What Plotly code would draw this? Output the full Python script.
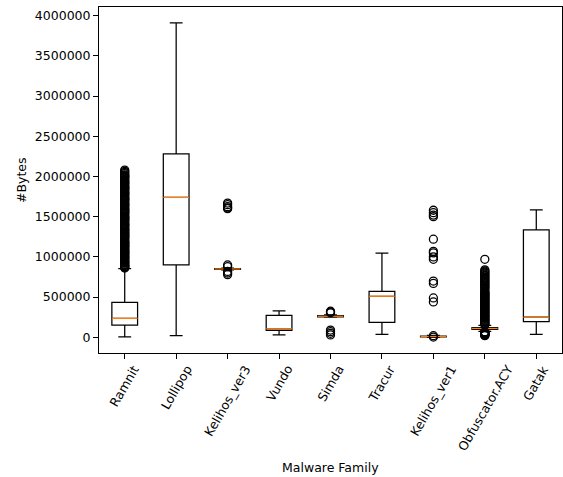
import plotly.graph_objects as go

families = ["Ramnit", "Lollipop", "Kelihos_ver3", "Vundo", "Simda", "Tracur",
            "Kelihos_ver1", "Obfuscator.ACY", "Gatak"]
positions = [1, 2, 3, 4, 5, 6, 7, 8, 9]

lower_whisker = [5000, 20000, 840000, 30000, 250000, 37000, 0, 75000, 37000]
q1_vals = [153000, 900000, 845000, 87000, 255000, 187000, 5000, 100000, 195000]
median_vals = [235000, 1740000, 850000, 107000, 262000, 510000, 10000, 110000, 250000]
q3_vals = [436000, 2280000, 855000, 274000, 270000, 570000, 15000, 122000, 1336000]
upper_whisker = [855000, 3910000, 860000, 330000, 280000, 1046000, 25000, 150000, 1585000]

outliers_ramnit = [862000, 870000, 878000, 885000, 893000, 900000, 912000, 925000,
                   932000, 940000, 950000, 960000, 972000, 985000, 992000, 1000000,
                   1010000, 1020000, 1032000, 1045000, 1052000, 1060000, 1070000,
                   1080000, 1090000, 1100000, 1112000, 1125000, 1132000, 1140000,
                   1152000, 1165000, 1172000, 1180000, 1190000, 1200000, 1215000,
                   1230000, 1240000, 1250000, 1260000, 1270000, 1280000, 1290000,
                   1300000, 1310000, 1322000, 1335000, 1342000, 1350000, 1365000,
                   1380000, 1390000, 1400000, 1410000, 1420000, 1435000, 1450000,
                   1460000, 1470000, 1480000, 1490000, 1500000, 1510000, 1525000,
                   1540000, 1550000, 1560000, 1570000, 1580000, 1590000, 1600000,
                   1615000, 1630000, 1640000, 1650000, 1660000, 1670000, 1685000,
                   1700000, 1710000, 1720000, 1730000, 1740000, 1755000, 1770000,
                   1780000, 1790000, 1800000, 1810000, 1825000, 1840000, 1850000,
                   1860000, 1870000, 1880000, 1895000, 1910000, 1920000, 1930000,
                   1940000, 1950000, 1965000, 1980000, 1990000, 2000000, 2010000,
                   2020000, 2035000, 2050000, 2065000, 2080000]
outliers_lollipop = []
outliers_kelihos3 = [780000, 800000, 820000, 880000, 900000,
                     1600000, 1610000, 1625000, 1650000, 1670000]
outliers_vundo = []
outliers_simda = [30000, 50000, 70000, 90000, 305000, 315000, 325000]
outliers_tracur = []
outliers_kelihos1 = [3000, 20000, 440000, 490000, 670000, 700000, 970000, 1000000,
                     1050000, 1070000, 1220000, 1500000, 1520000, 1550000, 1580000]
outliers_obfuscator = [20000, 25000, 30000, 35000, 40000, 45000, 50000, 55000,
                       60000, 65000, 70000, 155000, 165000, 175000, 185000, 195000,
                       205000, 215000, 225000, 235000, 245000, 255000, 265000,
                       275000, 285000, 295000, 305000, 315000, 325000, 335000,
                       345000, 355000, 365000, 375000, 385000, 395000, 405000,
                       415000, 425000, 435000, 445000, 455000, 465000, 475000,
                       485000, 495000, 505000, 515000, 525000, 535000, 545000,
                       555000, 565000, 580000, 600000, 612000, 625000, 640000,
                       652000, 665000, 680000, 692000, 705000, 720000, 732000,
                       745000, 760000, 772000, 785000, 800000, 812000, 825000,
                       840000, 970000]
outliers_gatak = []

outliers = [outliers_ramnit, outliers_lollipop, outliers_kelihos3, outliers_vundo,
            outliers_simda, outliers_tracur, outliers_kelihos1, outliers_obfuscator,
            outliers_gatak]

y_ticks = [0, 500000, 1000000, 1500000, 2000000, 2500000, 3000000, 3500000, 4000000]

FONT = "DejaVu Sans"
FS = 12.5
BOX_W = 0.5
LW = 1.25

fig = go.Figure()

for i, fam in enumerate(families):
    p = positions[i]
    fig.add_trace(go.Box(
        x=[p], q1=[q1_vals[i]], median=[median_vals[i]], q3=[q3_vals[i]],
        lowerfence=[lower_whisker[i]], upperfence=[upper_whisker[i]],
        width=BOX_W, whiskerwidth=0.5, boxpoints=False,
        line=dict(color="black", width=LW), fillcolor="rgba(0,0,0,0)",
        showlegend=False, hoverinfo="skip", name=fam,
    ))
    fig.add_trace(go.Scatter(
        x=[p - BOX_W / 2, p + BOX_W / 2], y=[median_vals[i], median_vals[i]],
        mode="lines", line=dict(color="#ff7f0e", width=LW),
        showlegend=False, hoverinfo="skip",
    ))
    if outliers[i]:
        fig.add_trace(go.Scatter(
            x=[p] * len(outliers[i]), y=outliers[i], mode="markers",
            marker=dict(symbol="circle-open", size=8, color="black",
                        line=dict(width=1.3, color="black")),
            showlegend=False, hoverinfo="skip",
        ))

annotations = []
for i, fam in enumerate(families):
    annotations.append(dict(
        x=positions[i], y=0, xref="x", yref="paper", text=fam, showarrow=False,
        textangle=-60, xanchor="center", yanchor="top", yshift=-7,
        font=dict(family=FONT, size=FS, color="black"),
    ))
annotations.append(dict(
    x=0.5, y=0, xref="paper", yref="paper", text="Malware Family", showarrow=False,
    xanchor="center", yanchor="middle", yshift=-114,
    font=dict(family=FONT, size=FS, color="black"),
))
annotations.append(dict(
    x=0, y=0.5, xref="paper", yref="paper", text="#Bytes", showarrow=False,
    textangle=-90, xanchor="center", yanchor="middle", xshift=-78,
    font=dict(family=FONT, size=FS, color="black"),
))

fig.update_layout(
    width=563, height=477,
    margin=dict(l=99, r=1, t=7, b=124),
    paper_bgcolor="white", plot_bgcolor="white",
    font=dict(family=FONT, size=FS, color="black"),
    annotations=annotations,
    xaxis=dict(
        range=[0.5, 9.5], tickvals=positions, showticklabels=False,
        ticks="outside", ticklen=5, tickwidth=1, tickcolor="black",
        showline=True, mirror=True, linecolor="black", linewidth=1,
        showgrid=False, zeroline=False,
    ),
    yaxis=dict(
        range=[-195000, 4108000], tickvals=y_ticks, tickformat="d",
        ticks="outside", ticklen=5, tickwidth=1, tickcolor="black",
        showline=True, mirror=True, linecolor="black", linewidth=1,
        showgrid=False, zeroline=False,
        tickfont=dict(family=FONT, size=FS, color="black"),
    ),
)

fig.write_html(
    "out.html",
    config={"displayModeBar": False},
    post_script="document.body.style.margin='0';document.body.style.padding='0';",
)
